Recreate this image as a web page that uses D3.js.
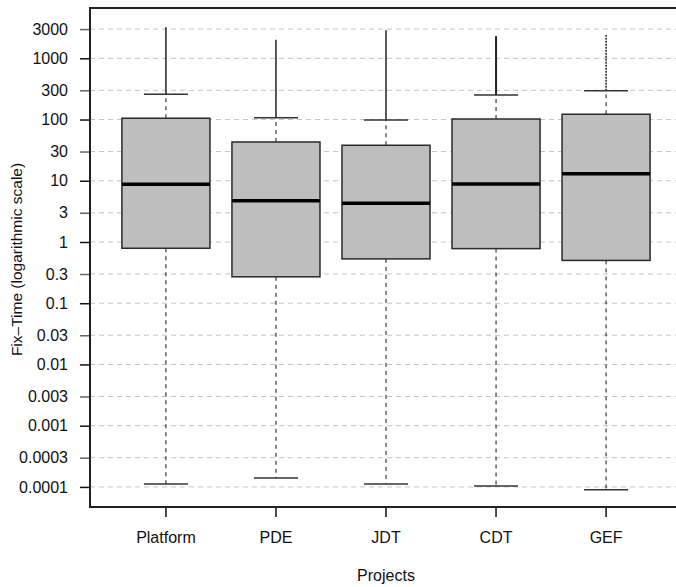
<!DOCTYPE html>
<html lang="en">
<head>
  <meta charset="UTF-8">
  <title>Fix-Time boxplot with D3.js</title>
  <script src="https://d3js.org/d3.v7.min.js"></script>
  <style>
    body { margin: 0; background: #fff; }
    text { font-family: "Liberation Sans", Arial, sans-serif; fill: #111; }
  </style>
</head>
<body>
  <div id="my_dataviz"></div>
  <script>
    // Hard-coded data
    var projects = ["Platform", "PDE", "JDT", "CDT", "GEF"];
    var lowerWhisker = [0.000112, 0.00014, 0.000112, 0.000104, 0.00009];
    var q1 = [0.79, 0.27, 0.53, 0.78, 0.50];
    var median = [8.75, 4.7, 4.3, 8.85, 13];
    var q3 = [105, 43, 38, 102, 122];
    var upperWhisker = [258, 107, 98, 252, 296];
    var outlierMax = [3200, 2000, 2880, 2300, 2400];

    var tickValues = [3000, 1000, 300, 100, 30, 10, 3, 1, 0.3, 0.1, 0.03, 0.01, 0.003, 0.001, 0.0003, 0.0001];
    var tickLabels = ["3000", "1000", "300", "100", "30", "10", "3", "1", "0.3", "0.1", "0.03", "0.01", "0.003", "0.001", "0.0003", "0.0001"];

    var data = projects.map(function(p, i) {
      return {name: p, lo: lowerWhisker[i], q1: q1[i], med: median[i], q3: q3[i], hi: upperWhisker[i], out: outlierMax[i]};
    });

    // Dimensions (plot region runs a little past the right edge, like the original)
    var margin = {top: 8, left: 90},
        width = 592,
        height = 499;

    var svg = d3.select("#my_dataviz")
      .append("svg")
        .attr("width", 676)
        .attr("height", 587)
      .append("g")
        .attr("transform", "translate(" + margin.left + "," + margin.top + ")");

    // Scales
    var y = d3.scaleLog()
        .domain([0.000047, 6630])
        .range([height, 0]);

    var x = d3.scaleBand()
        .domain(projects)
        .range([0, width])
        .paddingInner(0.2)
        .paddingOuter(0.29);

    // Dashed grid lines
    svg.append("g")
      .selectAll("line")
      .data(tickValues)
      .enter()
      .append("line")
        .attr("x1", 0)
        .attr("x2", width)
        .attr("y1", function(d) { return y(d); })
        .attr("y2", function(d) { return y(d); })
        .style("stroke", "#c4c4c4")
        .style("stroke-width", 1)
        .style("stroke-dasharray", "5,4");

    // Y axis
    var yAxis = svg.append("g")
        .call(d3.axisLeft(y)
          .tickValues(tickValues)
          .tickFormat(function(d, i) { return tickLabels[i]; })
          .tickSize(10)
          .tickPadding(12));
    yAxis.select(".domain").remove();
    yAxis.selectAll("text").style("font-size", "16px");
    yAxis.selectAll("line")
        .style("stroke", function(d, i) { return i % 2 === 0 ? "#666" : "#111"; })
        .style("stroke-width", 1.5);

    // X axis
    var xAxis = svg.append("g")
        .attr("transform", "translate(0," + height + ")")
        .call(d3.axisBottom(x).tickSize(10).tickPadding(15));
    xAxis.select(".domain").remove();
    xAxis.selectAll("text").style("font-size", "16px");
    xAxis.selectAll("line").style("stroke", "#111").style("stroke-width", 1.5);

    var cx = function(d) { return x(d.name) + x.bandwidth() / 2; };
    var capW = x.bandwidth() / 2;

    // Outliers (dense enough to look like a solid line)
    svg.selectAll(".outl")
      .data(data)
      .enter()
      .append("line")
        .attr("x1", cx)
        .attr("x2", cx)
        .attr("y1", function(d) { return y(d.hi); })
        .attr("y2", function(d) { return y(d.out); })
        .style("stroke", "#222")
        .style("stroke-width", function(d) { return d.name === "CDT" ? 2 : 1.5; })
        .style("stroke-dasharray", function(d) { return d.name === "GEF" ? "2,1" : null; });

    // Whiskers (dashed)
    svg.selectAll(".whiskUp")
      .data(data)
      .enter()
      .append("line")
        .attr("x1", cx)
        .attr("x2", cx)
        .attr("y1", function(d) { return y(d.q3); })
        .attr("y2", function(d) { return y(d.hi); })
        .style("stroke", "#111")
        .style("stroke-dasharray", "4,4");

    svg.selectAll(".whiskDown")
      .data(data)
      .enter()
      .append("line")
        .attr("x1", cx)
        .attr("x2", cx)
        .attr("y1", function(d) { return y(d.q1); })
        .attr("y2", function(d) { return y(d.lo); })
        .style("stroke", "#111")
        .style("stroke-dasharray", "4,4");

    // Whisker caps
    ["hi", "lo"].forEach(function(k) {
      svg.selectAll(".cap" + k)
        .data(data)
        .enter()
        .append("line")
          .attr("x1", function(d) { return cx(d) - capW / 2; })
          .attr("x2", function(d) { return cx(d) + capW / 2; })
          .attr("y1", function(d) { return y(d[k]); })
          .attr("y2", function(d) { return y(d[k]); })
          .style("stroke", "#333")
          .style("stroke-width", 1.5);
    });

    // Boxes
    svg.selectAll(".box")
      .data(data)
      .enter()
      .append("rect")
        .attr("x", function(d) { return x(d.name); })
        .attr("y", function(d) { return y(d.q3); })
        .attr("width", x.bandwidth())
        .attr("height", function(d) { return y(d.q1) - y(d.q3); })
        .style("fill", "#bebebe")
        .style("stroke", "#2a2a2a")
        .style("stroke-width", 1.5);

    // Medians
    svg.selectAll(".med")
      .data(data)
      .enter()
      .append("line")
        .attr("x1", function(d) { return x(d.name); })
        .attr("x2", function(d) { return x(d.name) + x.bandwidth(); })
        .attr("y1", function(d) { return y(d.med); })
        .attr("y2", function(d) { return y(d.med); })
        .style("stroke", "#000")
        .style("stroke-width", 3.5);

    // Frame
    svg.append("rect")
        .attr("x", 0)
        .attr("y", 0)
        .attr("width", width)
        .attr("height", height)
        .style("fill", "none")
        .style("stroke", "#222")
        .style("stroke-width", 2);

    // Axis titles
    svg.append("text")
        .attr("text-anchor", "middle")
        .attr("x", width / 2)
        .attr("y", height + 74)
        .style("font-size", "16px")
        .text("Projects");

    svg.append("text")
        .attr("text-anchor", "middle")
        .attr("transform", "rotate(-90)")
        .attr("x", -height / 2 - 2)
        .attr("y", -margin.left + 22)
        .style("font-size", "15.5px")
        .text("Fix–Time (logarithmic scale)");
  </script>
</body>
</html>
